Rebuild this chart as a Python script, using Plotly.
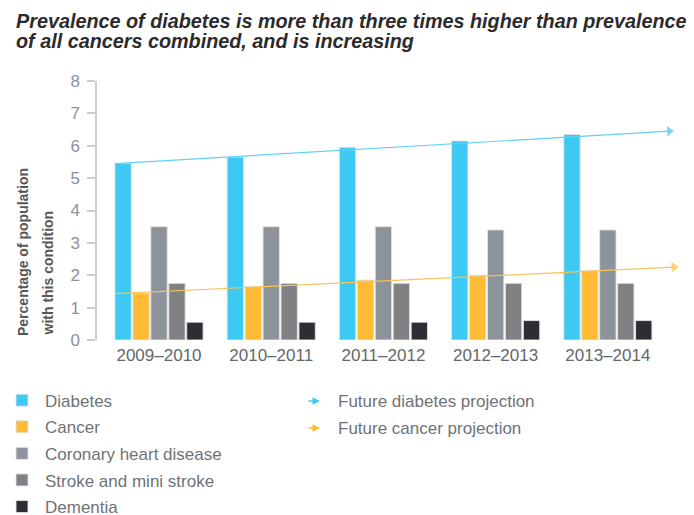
import plotly.graph_objects as go

# ---- data ----
periods = ["2009–2010", "2010–2011", "2011–2012", "2012–2013", "2013–2014"]
diabetes = [5.45, 5.65, 5.95, 6.15, 6.35]
cancer = [1.45, 1.65, 1.85, 2.0, 2.15]
chd = [3.5, 3.5, 3.5, 3.4, 3.4]
stroke = [1.75, 1.75, 1.75, 1.75, 1.75]
dementia = [0.55, 0.55, 0.55, 0.6, 0.6]

proj_x_diabetes = [-0.39, 4.55]
proj_diabetes = [5.45, 6.45]
proj_x_cancer = [-0.39, 4.59]
proj_cancer = [1.43, 2.25]

y_ticks = [0, 1, 2, 3, 4, 5, 6, 7, 8]

title_lines = ["Prevalence of diabetes is more than three times higher than prevalence",
               "of all cancers combined, and is increasing"]

series = [
    ("Diabetes", diabetes, "#3dc9f2"),
    ("Cancer", cancer, "#ffbb33"),
    ("Coronary heart disease", chd, "#8d939b"),
    ("Stroke and mini stroke", stroke, "#818185"),
    ("Dementia", dementia, "#2c2e34"),
]

# page body has an 8px margin; size the figure so it ends at the window edge
OFF = 8
W, H = 694 - OFF, 515 - OFF
L, R, T, B = 97 - OFF, 14, 81 - OFF, 175
PW, PH = W - L - R, H - T - B


def px_x(p):
    """reference-window pixel x -> paper x"""
    return (p - OFF - L) / PW


def px_y(p):
    """reference-window pixel y -> paper y"""
    return (H - B - (p - OFF)) / PH


FONT = "Liberation Sans, Arial, Helvetica, sans-serif"

fig = go.Figure()
x_idx = list(range(len(periods)))
for i, (name, vals, col) in enumerate(series):
    fig.add_trace(go.Bar(
        x=x_idx, y=vals, name=name,
        marker=dict(color=col, line=dict(color="rgba(225,226,228,0.9)", width=1)),
        legendgroup=name,
    ))

fig.add_trace(go.Scatter(
    x=proj_x_diabetes, y=proj_diabetes, mode="lines+markers",
    line=dict(color="#62d0f2", width=1.2),
    marker=dict(symbol="triangle-up", size=[0, 8], angleref="previous", color="#3dc9f2"),
    showlegend=False, cliponaxis=False, name="Future diabetes projection",
))
fig.add_trace(go.Scatter(
    x=proj_x_cancer, y=proj_cancer, mode="lines+markers",
    line=dict(color="#f8c35a", width=1.2),
    marker=dict(symbol="triangle-up", size=[0, 8], angleref="previous", color="#ffbb33"),
    showlegend=False, cliponaxis=False, name="Future cancer projection",
))

annotations = []
# title (two lines)
for txt, cy in zip(title_lines, [21, 41]):
    annotations.append(dict(
        text="<b><i>" + txt + "</i></b>", xref="paper", yref="paper",
        x=px_x(14), y=px_y(cy), xanchor="left", yanchor="middle", showarrow=False,
        font=dict(family=FONT, size=19.8, color="#2b2b2d"),
    ))

# y-axis title (two lines, left-aligned at bottom)
for txt, cx in [("Percentage of population", 23), ("with this condition", 47)]:
    annotations.append(dict(
        text=txt, xref="paper", yref="paper", x=px_x(cx), y=px_y(338),
        xanchor="center", yanchor="bottom", textangle=-90, showarrow=False,
        font=dict(family=FONT, size=14, color="#555658", weight="bold"),
    ))

# projection legend entries
for txt, col, cy in [("Future diabetes projection", "#3dc9f2", 401),
                     ("Future cancer projection", "#ffbb33", 428)]:
    annotations.append(dict(
        text="", xref="paper", yref="paper", x=px_x(320), y=px_y(cy),
        axref="pixel", ayref="pixel", ax=-13, ay=0, showarrow=True,
        arrowhead=2, arrowsize=1, arrowwidth=1.5, arrowcolor=col,
    ))
    annotations.append(dict(
        text=txt, xref="paper", yref="paper", x=px_x(336), y=px_y(cy),
        xanchor="left", yanchor="middle", showarrow=False,
        font=dict(family=FONT, size=17, color="#707276"),
    ))

fig.update_layout(
    width=W, height=H,
    margin=dict(l=L, r=R, t=T, b=B, autoexpand=False),
    paper_bgcolor="white", plot_bgcolor="white",
    barmode="group", bargap=0.2, bargroupgap=0.09,
    xaxis=dict(
        range=[-0.5526, 4.643], tickmode="array", tickvals=x_idx, ticktext=periods,
        showline=False, showgrid=False, zeroline=False, ticks="",
        ticklabelstandoff=3,
        tickfont=dict(family=FONT, size=17, color="#64676b"),
    ),
    yaxis=dict(
        range=[0, 8], tickmode="array", tickvals=y_ticks,
        showline=True, linecolor="#cbcdd1", linewidth=1.5,
        ticks="outside", ticklen=8, tickcolor="#cbcdd1", tickwidth=1.5,
        showgrid=False, zeroline=False, ticklabelstandoff=4,
        tickfont=dict(family=FONT, size=17, color="#8c9199"),
    ),
    legend=dict(
        x=px_x(-1), y=px_y(382.6), xanchor="left", yanchor="top",
        orientation="v", traceorder="grouped", tracegroupgap=1.5,
        itemwidth=36, font=dict(family=FONT, size=17, color="#707276"),
        bgcolor="rgba(0,0,0,0)",
    ),
    annotations=annotations,
)

fig.write_html("out.html")
